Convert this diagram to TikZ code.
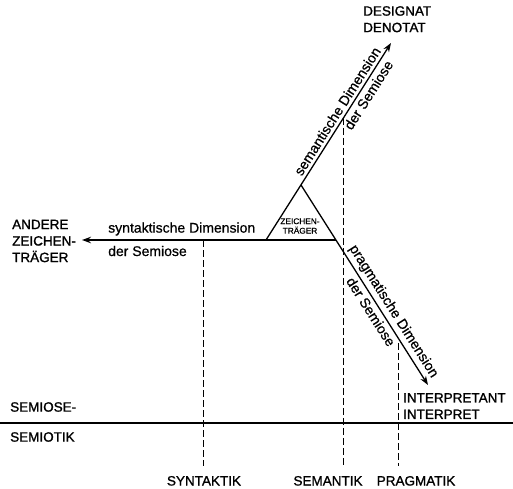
\documentclass[tikz,border=0pt]{standalone}
\usepackage{fontspec}
\setmainfont{Liberation Sans}[FakeBold=0.6]
\newfontfamily\heavyfont{Liberation Sans}[FakeBold=1.2]
\usetikzlibrary{arrows.meta}
\begin{document}
\begin{tikzpicture}[x=1pt,y=1pt,
  axis/.style={line width=1.3pt,-{Stealth[length=9pt,width=6.5pt]}},
  guide/.style={line width=0.9pt,dash pattern=on 7pt off 3pt},
  caps/.style={font=\heavyfont\fontsize{13.5}{16.5}\selectfont,inner sep=0pt,align=left},
  lower/.style={font=\fontsize{14}{16}\selectfont,inner sep=0pt},
  dimlbl/.style={font=\fontsize{14}{16}\selectfont,inner sep=3pt,sloped}
]
\useasboundingbox (0,0) rectangle (513,488);
% geometry
\coordinate (A) at (301,303);
\coordinate (BL) at (266,248);
\coordinate (BR) at (336,248);
\coordinate (S) at (391,445);
\coordinate (P) at (428,103);
\coordinate (Y) at (82,248);
% main arrows (also form the triangle)
\draw[axis] (BL) -- (S)
  node[dimlbl,above,pos=0.63] (semA) {semantische Dimension}
  node[dimlbl,below,pos=0.76] (semB) {der Semiose};
\draw[axis] (A) -- (P)
  node[dimlbl,above,pos=0.66] (praA) {pragmatische Dimension}
  node[dimlbl,below,pos=0.61] (praB) {der Semiose};
\draw[axis] (BR) -- (Y);
\node[lower,anchor=west] (synA) at (108,259) {syntaktische Dimension};
\node[lower,anchor=west] (synB) at (108,237) {der Semiose};
% triangle label
\node[font=\fontsize{8.3}{9.5}\selectfont,align=center,inner sep=0pt] (zt) at (300,262) {ZEICHEN-\\TRÄGER};
% end labels
\node[caps,anchor=north west] (des) at (363,482) {DESIGNAT\\DENOTAT};
\node[caps,anchor=west] (and) at (12,247) {ANDERE\\ZEICHEN-\\TRÄGER};
\node[caps,anchor=north west] (int) at (403,95) {INTERPRETANT\\INTERPRET};
% baseline
\coordinate (L0) at (0,65);
\coordinate (L1) at (513,65);
\draw[line width=1.1pt] (L0) -- (L1);
\node[caps,anchor=west] (sio) at (10,81) {SEMIOSE-};
\node[caps,anchor=west] (sik) at (10,51) {SEMIOTIK};
% bottom labels
\node[caps,anchor=base] (syn) at (204,2.5) {SYNTAKTIK};
\node[caps,anchor=base] (sem) at (328,2.5) {SEMANTIK};
\node[caps,anchor=base] (pra) at (416,2.5) {PRAGMATIK};
% dashed guides
\coordinate (g1) at (203.5,248);
\coordinate (g2) at (343.5,370);
\coordinate (g3) at (398.5,145);
\draw[guide] (g1) -- (g1 |- 0,22);
\draw[guide] (g2) -- (g2 |- 0,22);
\draw[guide] (g3) -- (g3 |- 0,22);
\end{tikzpicture}
\end{document}
